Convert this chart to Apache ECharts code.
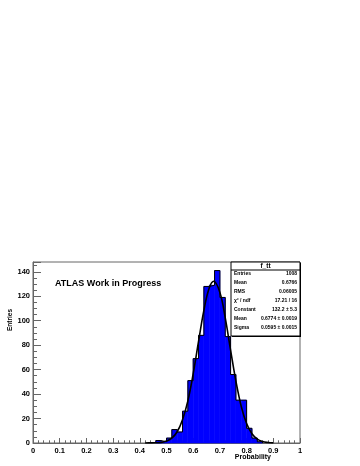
<!DOCTYPE html>
<html>
<head>
<meta charset="utf-8">
<script src="https://cdn.jsdelivr.net/npm/echarts@6/dist/echarts.min.js"></script>
<style>
  html, body { margin: 0; padding: 0; background: #fff; }
  #chart { width: 360px; height: 466px; }
</style>
</head>
<body>
<div id="chart"></div>
<script>
  // histogram bins (lower edges), width 0.02
  const binStart = [0.46, 0.48, 0.50, 0.52, 0.54, 0.56, 0.58, 0.60, 0.62, 0.64,
                    0.66, 0.68, 0.70, 0.72, 0.74, 0.76, 0.78, 0.80, 0.82, 0.84]
  const binCounts = [2, 1, 4, 11, 9, 26, 51, 69, 88, 128,
                     129, 141, 119, 87, 56, 35, 35, 12, 4, 1]
  const binWidth = 0.02

  // gaussian fit curve
  const fitX = [0.42, 0.44, 0.46, 0.48, 0.50, 0.52, 0.54, 0.56, 0.58, 0.60, 0.62, 0.64,
                0.66, 0.677, 0.70, 0.72, 0.74, 0.76, 0.78, 0.80, 0.82, 0.84, 0.86, 0.88, 0.90]
  const fitY = [0.05, 0.1, 0.2, 0.5, 1.6, 4, 9.2, 19, 34.4, 56.7, 83, 108.5,
                126.7, 132.2, 123, 102.3, 76, 50.5, 29.9, 15.9, 7.5, 3.2, 1.2, 0.4, 0.1]

  const statTitle = 'f_tt'
  const statLabels = ['Entries', 'Mean', 'RMS', 'χ² / ndf', 'Constant', 'Mean', 'Sigma']
  const statValues = ['1008', '0.6766', '0.06005', '17.21 / 16', '132.2 ± 5.3', '0.6774 ± 0.0019', '0.0595 ± 0.0015']

  const FONT = 'Liberation Sans'
  let chart = echarts.init(document.getElementById('chart'))

  let barData = binStart.map((s, i) => [s, s + binWidth, binCounts[i]])
  let outline = [[binStart[0], 0]]
  binStart.forEach((s, i) => outline.push([s, binCounts[i]]))
  outline.push([binStart[binStart.length - 1] + binWidth, 0])
  let curve = fitX.map((x, i) => [x, fitY[i]])

  // stats box
  let bx = 231, by = 262, bw = 69, bh = 74
  let graphics = [
    { type: 'rect', z: 10, shape: { x: bx + 1, y: by + 1, width: bw, height: bh }, style: { fill: '#000' } },
    { type: 'rect', z: 11, shape: { x: bx, y: by, width: bw, height: bh }, style: { fill: '#fff', stroke: '#000', lineWidth: 1 } },
    { type: 'line', z: 12, shape: { x1: bx, y1: by + 8, x2: bx + bw, y2: by + 8 }, style: { stroke: '#000', lineWidth: 1 } },
    { type: 'text', z: 12, x: bx + bw / 2, y: by + 4.5, style: { text: statTitle, font: 'bold 6.5px ' + FONT, fill: '#000', align: 'center', verticalAlign: 'middle' } },
    { type: 'text', z: 12, x: 55, y: 284, style: { text: 'ATLAS Work in Progress', font: 'bold 9px ' + FONT, fill: '#000', align: 'left', verticalAlign: 'middle' } },
    { type: 'text', z: 12, x: 10, y: 320, rotation: Math.PI / 2, style: { text: 'Entries', font: 'bold 6.5px ' + FONT, fill: '#000', align: 'center', verticalAlign: 'middle' } },
    { type: 'text', z: 12, x: 271, y: 457, style: { text: 'Probability', font: 'bold 7px ' + FONT, fill: '#000', align: 'right', verticalAlign: 'middle' } }
  ]
  statLabels.forEach((lab, i) => {
    let y = by + 11.5 + i * 9
    graphics.push({ type: 'text', z: 12, x: bx + 3, y: y, style: { text: lab, font: 'bold 5px ' + FONT, fill: '#000', align: 'left', verticalAlign: 'middle' } })
    graphics.push({ type: 'text', z: 12, x: bx + bw - 3, y: y, style: { text: statValues[i], font: 'bold 5px ' + FONT, fill: '#000', align: 'right', verticalAlign: 'middle' } })
  })

  let axisCol = '#666'
  let option = {
    animation: false,
    backgroundColor: '#fff',
    grid: { left: 33, right: 60, top: 262, bottom: 23, show: true, borderColor: axisCol, borderWidth: 1, backgroundColor: '#fff' },
    xAxis: {
      type: 'value', min: 0, max: 1, interval: 0.1,
      axisLine: { lineStyle: { color: axisCol, width: 1 } },
      axisTick: { inside: true, length: 5, lineStyle: { color: axisCol } },
      minorTick: { show: true, splitNumber: 5, length: 2.7, lineStyle: { color: axisCol } },
      splitLine: { show: false },
      axisLabel: { margin: 4, color: '#000', fontFamily: FONT, fontWeight: 'bold', fontSize: 7.5 }
    },
    yAxis: {
      type: 'value', min: 0, max: 148, interval: 20,
      axisLine: { show: true, lineStyle: { color: axisCol, width: 1 } },
      axisTick: { show: true, inside: true, length: 8, lineStyle: { color: axisCol } },
      minorTick: { show: true, splitNumber: 4, length: 4, lineStyle: { color: axisCol } },
      splitLine: { show: false },
      axisLabel: { margin: 3, showMaxLabel: false, color: '#000', fontFamily: FONT, fontWeight: 'bold', fontSize: 7.5 }
    },
    series: [
      {
        type: 'custom',
        data: barData,
        encode: { x: [0, 1], y: 2 },
        renderItem: (params, api) => {
          let p0 = api.coord([api.value(0), api.value(2)])
          let p1 = api.coord([api.value(1), 0])
          return {
            type: 'rect',
            shape: { x: p0[0], y: p0[1], width: p1[0] - p0[0], height: p1[1] - p0[1] },
            style: { fill: '#0000ff', stroke: '#0000ff', lineWidth: 0.6 }
          }
        },
        z: 2
      },
      {
        type: 'line', data: outline, step: 'end', showSymbol: false,
        lineStyle: { color: '#000', width: 1 }, z: 3
      },
      {
        type: 'line', data: curve, smooth: 0.4, showSymbol: false,
        lineStyle: { color: '#000', width: 1.6 }, z: 4
      }
    ],
    graphic: graphics
  }
  chart.setOption(option)
</script>
</body>
</html>
